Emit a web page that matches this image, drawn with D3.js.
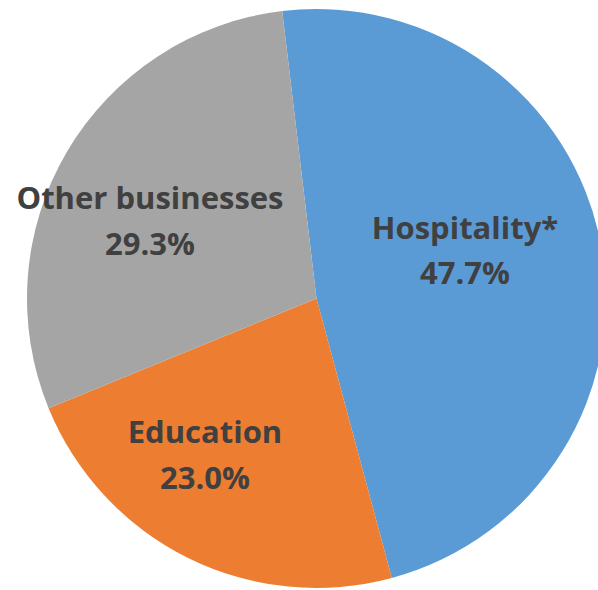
<!DOCTYPE html>
<html>
<head>
<meta charset="utf-8">
<script src="https://cdn.jsdelivr.net/npm/d3@7"></script>
<style>
  html, body { margin: 0; padding: 0; background: #ffffff; }
  svg { display: block; }
</style>
</head>
<body>
<svg id="chart" width="598" height="590"></svg>
<script>
// Share of total by sector
const categories = ["Hospitality*", "Education", "Other businesses"];
const shares = [47.7, 23.0, 29.3];
const colors = ["#5B9BD5", "#ED7D31", "#A5A5A5"];
const valueLabels = ["47.7%", "23.0%", "29.3%"];

const svg = d3.select("#chart");
const cx = 316.5, cy = 298.5, radius = 289.5;

const startAngle = -6.8 * Math.PI / 180;
const pie = d3.pie()
  .sort(null)
  .value(d => d.value)
  .startAngle(startAngle)
  .endAngle(startAngle + 2 * Math.PI);

const data = categories.map((c, i) => ({ name: c, value: shares[i], label: valueLabels[i], color: colors[i] }));
const arcs = pie(data);

const arc = d3.arc().innerRadius(0).outerRadius(radius);

const g = svg.append("g").attr("transform", `translate(${cx},${cy})`);

g.selectAll("path.slice")
  .data(arcs)
  .join("path")
  .attr("class", "slice")
  .attr("d", arc)
  .attr("fill", d => d.data.color);

// Label anchor points (centre x, baseline of name, baseline of value)
const labelPos = [
  { x: 465, y1: 239, y2: 284 },
  { x: 205, y1: 443, y2: 489 },
  { x: 150, y1: 209, y2: 255 }
];

const labels = svg.append("g")
  .attr("font-family", "'Open Sans', sans-serif")
  .attr("font-weight", "bold")
  .attr("font-size", 31)
  .attr("fill", "#404040")
  .attr("text-anchor", "middle");

arcs.forEach((a, i) => {
  const p = labelPos[i];
  labels.append("text").attr("x", p.x).attr("y", p.y1).text(a.data.name);
  labels.append("text").attr("x", p.x).attr("y", p.y2).text(a.data.label);
});
</script>
</body>
</html>
